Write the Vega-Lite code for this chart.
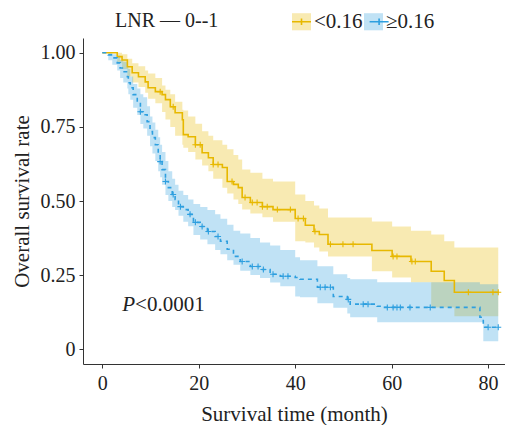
{
  "$schema": "https://vega.github.io/schema/vega-lite/v6.json",
  "width": 422,
  "height": 326,
  "autosize": {"type": "none"},
  "padding": {"left": 83, "top": 38, "right": 0, "bottom": 61},
  "background": "white",
  "config": {
    "view": {"stroke": null},
    "font": "Liberation Serif",
    "axis": {
      "labelFont": "Liberation Serif",
      "titleFont": "Liberation Serif",
      "labelFontSize": 20,
      "titleFontSize": 21,
      "titleFontWeight": "normal",
      "labelColor": "#222222",
      "titleColor": "#222222",
      "domainColor": "#333333",
      "tickColor": "#333333",
      "tickSize": 4,
      "grid": false
    },
    "legend": {
      "orient": "none",
      "legendY": -27,
      "direction": "horizontal",
      "titleOrient": "left",
      "titlePadding": 72,
      "titleFont": "Liberation Serif",
      "titleFontSize": 20,
      "titleFontWeight": "normal",
      "titleColor": "#222222",
      "labelFont": "Liberation Serif",
      "labelFontSize": 21,
      "labelColor": "#222222",
      "labelOffset": 2,
      "columnPadding": 0,
      "symbolSize": 361
    }
  },
  "datasets": {
    "curve": [
      {"grp": "<0.16", "t": 0, "s": 1, "lo": 1, "hi": 1},
      {"grp": "<0.16", "t": 3.1, "s": 0.987, "lo": 0.965, "hi": 1},
      {"grp": "<0.16", "t": 4.1, "s": 0.976, "lo": 0.945, "hi": 0.995},
      {"grp": "<0.16", "t": 5.2, "s": 0.953, "lo": 0.92, "hi": 0.98},
      {"grp": "<0.16", "t": 6.2, "s": 0.933, "lo": 0.9, "hi": 0.965},
      {"grp": "<0.16", "t": 7.5, "s": 0.919, "lo": 0.885, "hi": 0.955},
      {"grp": "<0.16", "t": 8.9, "s": 0.902, "lo": 0.865, "hi": 0.94},
      {"grp": "<0.16", "t": 9.5, "s": 0.882, "lo": 0.845, "hi": 0.93},
      {"grp": "<0.16", "t": 11.0, "s": 0.869, "lo": 0.83, "hi": 0.915},
      {"grp": "<0.16", "t": 12.4, "s": 0.859, "lo": 0.8, "hi": 0.89},
      {"grp": "<0.16", "t": 13.1, "s": 0.842, "lo": 0.775, "hi": 0.875},
      {"grp": "<0.16", "t": 14.1, "s": 0.818, "lo": 0.75, "hi": 0.86},
      {"grp": "<0.16", "t": 15.1, "s": 0.798, "lo": 0.72, "hi": 0.835},
      {"grp": "<0.16", "t": 16.6, "s": 0.774, "lo": 0.69, "hi": 0.808},
      {"grp": "<0.16", "t": 16.8, "s": 0.724, "lo": 0.68, "hi": 0.805},
      {"grp": "<0.16", "t": 17.8, "s": 0.717, "lo": 0.665, "hi": 0.785},
      {"grp": "<0.16", "t": 19.3, "s": 0.69, "lo": 0.64, "hi": 0.761},
      {"grp": "<0.16", "t": 20.7, "s": 0.663, "lo": 0.62, "hi": 0.735},
      {"grp": "<0.16", "t": 22.0, "s": 0.646, "lo": 0.6, "hi": 0.72},
      {"grp": "<0.16", "t": 23.0, "s": 0.623, "lo": 0.575, "hi": 0.705},
      {"grp": "<0.16", "t": 24.9, "s": 0.613, "lo": 0.545, "hi": 0.69},
      {"grp": "<0.16", "t": 25.9, "s": 0.566, "lo": 0.525, "hi": 0.675},
      {"grp": "<0.16", "t": 27.2, "s": 0.556, "lo": 0.505, "hi": 0.655},
      {"grp": "<0.16", "t": 28.2, "s": 0.545, "lo": 0.49, "hi": 0.64},
      {"grp": "<0.16", "t": 29.0, "s": 0.512, "lo": 0.471, "hi": 0.606},
      {"grp": "<0.16", "t": 30.7, "s": 0.495, "lo": 0.458, "hi": 0.595},
      {"grp": "<0.16", "t": 33.2, "s": 0.481, "lo": 0.445, "hi": 0.575},
      {"grp": "<0.16", "t": 35.4, "s": 0.471, "lo": 0.43, "hi": 0.566},
      {"grp": "<0.16", "t": 40.0, "s": 0.441, "lo": 0.364, "hi": 0.522},
      {"grp": "<0.16", "t": 42.1, "s": 0.418, "lo": 0.36, "hi": 0.5},
      {"grp": "<0.16", "t": 43.9, "s": 0.397, "lo": 0.343, "hi": 0.485},
      {"grp": "<0.16", "t": 45.0, "s": 0.387, "lo": 0.33, "hi": 0.475},
      {"grp": "<0.16", "t": 46.8, "s": 0.354, "lo": 0.313, "hi": 0.444},
      {"grp": "<0.16", "t": 55.9, "s": 0.333, "lo": 0.263, "hi": 0.431},
      {"grp": "<0.16", "t": 60.1, "s": 0.313, "lo": 0.242, "hi": 0.414},
      {"grp": "<0.16", "t": 64.0, "s": 0.296, "lo": 0.226, "hi": 0.4},
      {"grp": "<0.16", "t": 68.2, "s": 0.263, "lo": 0.141, "hi": 0.387},
      {"grp": "<0.16", "t": 70.9, "s": 0.232, "lo": 0.141, "hi": 0.364},
      {"grp": "<0.16", "t": 73.0, "s": 0.192, "lo": 0.111, "hi": 0.343},
      {"grp": "<0.16", "t": 82.1, "s": 0.192, "lo": 0.111, "hi": 0.343},
      {"grp": "≥0.16", "t": 0, "s": 1, "lo": 1, "hi": 1},
      {"grp": "≥0.16", "t": 1.24, "s": 0.993, "lo": 0.975, "hi": 1},
      {"grp": "≥0.16", "t": 2.07, "s": 0.983, "lo": 0.96, "hi": 0.995},
      {"grp": "≥0.16", "t": 3.1, "s": 0.966, "lo": 0.94, "hi": 0.99},
      {"grp": "≥0.16", "t": 3.7, "s": 0.949, "lo": 0.915, "hi": 0.976},
      {"grp": "≥0.16", "t": 4.35, "s": 0.936, "lo": 0.9, "hi": 0.97},
      {"grp": "≥0.16", "t": 5.2, "s": 0.919, "lo": 0.88, "hi": 0.955},
      {"grp": "≥0.16", "t": 5.4, "s": 0.899, "lo": 0.86, "hi": 0.945},
      {"grp": "≥0.16", "t": 5.8, "s": 0.882, "lo": 0.842, "hi": 0.92},
      {"grp": "≥0.16", "t": 6.4, "s": 0.859, "lo": 0.815, "hi": 0.895},
      {"grp": "≥0.16", "t": 7.25, "s": 0.832, "lo": 0.79, "hi": 0.88},
      {"grp": "≥0.16", "t": 7.9, "s": 0.801, "lo": 0.76, "hi": 0.86},
      {"grp": "≥0.16", "t": 8.5, "s": 0.791, "lo": 0.745, "hi": 0.85},
      {"grp": "≥0.16", "t": 9.3, "s": 0.768, "lo": 0.72, "hi": 0.82},
      {"grp": "≥0.16", "t": 9.9, "s": 0.734, "lo": 0.685, "hi": 0.785},
      {"grp": "≥0.16", "t": 10.4, "s": 0.714, "lo": 0.66, "hi": 0.765},
      {"grp": "≥0.16", "t": 11.0, "s": 0.69, "lo": 0.635, "hi": 0.74},
      {"grp": "≥0.16", "t": 11.6, "s": 0.657, "lo": 0.6, "hi": 0.715},
      {"grp": "≥0.16", "t": 12.0, "s": 0.633, "lo": 0.58, "hi": 0.69},
      {"grp": "≥0.16", "t": 12.4, "s": 0.606, "lo": 0.555, "hi": 0.665},
      {"grp": "≥0.16", "t": 13.1, "s": 0.566, "lo": 0.52, "hi": 0.635},
      {"grp": "≥0.16", "t": 13.7, "s": 0.545, "lo": 0.5, "hi": 0.6},
      {"grp": "≥0.16", "t": 14.5, "s": 0.522, "lo": 0.48, "hi": 0.575},
      {"grp": "≥0.16", "t": 15.1, "s": 0.505, "lo": 0.47, "hi": 0.555},
      {"grp": "≥0.16", "t": 15.8, "s": 0.481, "lo": 0.45, "hi": 0.535},
      {"grp": "≥0.16", "t": 16.8, "s": 0.471, "lo": 0.43, "hi": 0.52},
      {"grp": "≥0.16", "t": 17.8, "s": 0.455, "lo": 0.415, "hi": 0.505},
      {"grp": "≥0.16", "t": 18.9, "s": 0.428, "lo": 0.385, "hi": 0.49},
      {"grp": "≥0.16", "t": 20.3, "s": 0.414, "lo": 0.37, "hi": 0.48},
      {"grp": "≥0.16", "t": 21.8, "s": 0.397, "lo": 0.354, "hi": 0.47},
      {"grp": "≥0.16", "t": 23.4, "s": 0.38, "lo": 0.335, "hi": 0.455},
      {"grp": "≥0.16", "t": 24.5, "s": 0.364, "lo": 0.32, "hi": 0.44},
      {"grp": "≥0.16", "t": 25.9, "s": 0.337, "lo": 0.3, "hi": 0.42},
      {"grp": "≥0.16", "t": 27.2, "s": 0.313, "lo": 0.285, "hi": 0.4},
      {"grp": "≥0.16", "t": 28.6, "s": 0.296, "lo": 0.265, "hi": 0.39},
      {"grp": "≥0.16", "t": 30.7, "s": 0.279, "lo": 0.25, "hi": 0.375},
      {"grp": "≥0.16", "t": 32.7, "s": 0.269, "lo": 0.24, "hi": 0.36},
      {"grp": "≥0.16", "t": 34.8, "s": 0.253, "lo": 0.225, "hi": 0.35},
      {"grp": "≥0.16", "t": 36.9, "s": 0.246, "lo": 0.212, "hi": 0.335},
      {"grp": "≥0.16", "t": 40.0, "s": 0.242, "lo": 0.178, "hi": 0.31},
      {"grp": "≥0.16", "t": 41.0, "s": 0.236, "lo": 0.175, "hi": 0.3},
      {"grp": "≥0.16", "t": 44.6, "s": 0.209, "lo": 0.155, "hi": 0.28},
      {"grp": "≥0.16", "t": 47.9, "s": 0.178, "lo": 0.14, "hi": 0.253},
      {"grp": "≥0.16", "t": 50.8, "s": 0.168, "lo": 0.12, "hi": 0.24},
      {"grp": "≥0.16", "t": 51.4, "s": 0.152, "lo": 0.108, "hi": 0.236},
      {"grp": "≥0.16", "t": 57.0, "s": 0.145, "lo": 0.091, "hi": 0.226},
      {"grp": "≥0.16", "t": 57.6, "s": 0.141, "lo": 0.091, "hi": 0.226},
      {"grp": "≥0.16", "t": 78.3, "s": 0.108, "lo": 0.091, "hi": 0.219},
      {"grp": "≥0.16", "t": 79.0, "s": 0.074, "lo": 0.027, "hi": 0.219},
      {"grp": "≥0.16", "t": 82.1, "s": 0.074, "lo": 0.027, "hi": 0.219}
    ],
    "censor": [
      {"grp": "<0.16", "t": 12.0, "s": 0.869},
      {"grp": "<0.16", "t": 14.7, "s": 0.818},
      {"grp": "<0.16", "t": 19.3, "s": 0.69},
      {"grp": "<0.16", "t": 20.3, "s": 0.69},
      {"grp": "<0.16", "t": 23.0, "s": 0.623},
      {"grp": "<0.16", "t": 24.0, "s": 0.623},
      {"grp": "<0.16", "t": 26.9, "s": 0.566},
      {"grp": "<0.16", "t": 29.6, "s": 0.512},
      {"grp": "<0.16", "t": 31.1, "s": 0.495},
      {"grp": "<0.16", "t": 32.1, "s": 0.495},
      {"grp": "<0.16", "t": 33.2, "s": 0.481},
      {"grp": "<0.16", "t": 34.2, "s": 0.481},
      {"grp": "<0.16", "t": 36.3, "s": 0.471},
      {"grp": "<0.16", "t": 39.0, "s": 0.471},
      {"grp": "<0.16", "t": 40.6, "s": 0.441},
      {"grp": "<0.16", "t": 41.7, "s": 0.441},
      {"grp": "<0.16", "t": 44.1, "s": 0.397},
      {"grp": "<0.16", "t": 47.3, "s": 0.354},
      {"grp": "<0.16", "t": 49.9, "s": 0.354},
      {"grp": "<0.16", "t": 52.0, "s": 0.354},
      {"grp": "<0.16", "t": 60.3, "s": 0.313},
      {"grp": "<0.16", "t": 61.1, "s": 0.313},
      {"grp": "<0.16", "t": 64.2, "s": 0.296},
      {"grp": "<0.16", "t": 64.9, "s": 0.296},
      {"grp": "<0.16", "t": 75.9, "s": 0.192},
      {"grp": "<0.16", "t": 81.0, "s": 0.192},
      {"grp": "<0.16", "t": 82.1, "s": 0.192},
      {"grp": "≥0.16", "t": 7.9, "s": 0.801},
      {"grp": "≥0.16", "t": 12.0, "s": 0.633},
      {"grp": "≥0.16", "t": 13.1, "s": 0.566},
      {"grp": "≥0.16", "t": 14.7, "s": 0.522},
      {"grp": "≥0.16", "t": 16.2, "s": 0.481},
      {"grp": "≥0.16", "t": 18.2, "s": 0.455},
      {"grp": "≥0.16", "t": 19.3, "s": 0.428},
      {"grp": "≥0.16", "t": 20.7, "s": 0.414},
      {"grp": "≥0.16", "t": 22.0, "s": 0.397},
      {"grp": "≥0.16", "t": 24.0, "s": 0.38},
      {"grp": "≥0.16", "t": 29.0, "s": 0.296},
      {"grp": "≥0.16", "t": 31.1, "s": 0.279},
      {"grp": "≥0.16", "t": 32.3, "s": 0.279},
      {"grp": "≥0.16", "t": 33.4, "s": 0.269},
      {"grp": "≥0.16", "t": 35.4, "s": 0.253},
      {"grp": "≥0.16", "t": 37.5, "s": 0.246},
      {"grp": "≥0.16", "t": 38.5, "s": 0.246},
      {"grp": "≥0.16", "t": 45.2, "s": 0.209},
      {"grp": "≥0.16", "t": 46.2, "s": 0.209},
      {"grp": "≥0.16", "t": 47.3, "s": 0.209},
      {"grp": "≥0.16", "t": 51.0, "s": 0.168},
      {"grp": "≥0.16", "t": 54.1, "s": 0.152},
      {"grp": "≥0.16", "t": 55.1, "s": 0.152},
      {"grp": "≥0.16", "t": 59.1, "s": 0.141},
      {"grp": "≥0.16", "t": 60.3, "s": 0.141},
      {"grp": "≥0.16", "t": 61.1, "s": 0.141},
      {"grp": "≥0.16", "t": 61.8, "s": 0.141},
      {"grp": "≥0.16", "t": 63.8, "s": 0.141},
      {"grp": "≥0.16", "t": 68.0, "s": 0.141},
      {"grp": "≥0.16", "t": 80.0, "s": 0.074},
      {"grp": "≥0.16", "t": 82.1, "s": 0.074}
    ]
  },
  "layer": [
    {
      "data": {"name": "curve"},
      "mark": {"type": "area", "interpolate": "step-after"},
      "encoding": {
        "x": {"field": "t", "type": "quantitative", "scale": {"domain": [-4, 83.5], "nice": false, "zero": false},
              "axis": {"title": "Survival time (month)", "values": [0, 20, 40, 60, 80], "labelPadding": 5, "titlePadding": 10}},
        "y": {"field": "hi", "type": "quantitative", "scale": {"domain": [-0.05, 1.05], "nice": false, "zero": false},
              "axis": {"title": "Overall survival rate", "values": [0, 0.25, 0.5, 0.75, 1], "labelExpr": "datum.value == 0 ? '0' : format(datum.value, '.2f')", "labelPadding": 4, "titlePadding": 8}},
        "y2": {"field": "lo"},
        "fill": {"field": "grp", "type": "nominal", "scale": {"domain": ["<0.16", "≥0.16"], "range": ["rgba(231,184,0,0.3)", "rgba(46,159,223,0.3)"]},
                 "legend": {"title": "LNR — 0--1", "legendX": 32, "symbolType": "M-1,-0.9H1V0.9H-1Z", "symbolStrokeWidth": 0}}
      }
    },
    {
      "data": {"name": "curve"},
      "mark": {"type": "line", "interpolate": "step-after", "strokeWidth": 1.6},
      "encoding": {
        "x": {"field": "t", "type": "quantitative"},
        "y": {"field": "s", "type": "quantitative"},
        "stroke": {"field": "grp", "type": "nominal", "scale": {"range": ["#E7B800", "#2E9FDF"]},
                   "legend": {"title": null, "legendX": 208, "labelExpr": "''", "labelOffset": 0, "columnPadding": 50.6, "symbolType": "M-1,0H1M0,-0.35V0.35", "symbolStrokeWidth": 1.6}},
        "strokeDash": {"condition": {"test": "datum.grp === '≥0.16'", "value": [4, 4]}, "value": [1, 0]}
      }
    },
    {
      "data": {"name": "censor"},
      "mark": {"type": "point", "shape": "M-1,0H1M0,-1V1", "size": 36, "filled": false, "strokeWidth": 1.1, "opacity": 1},
      "encoding": {
        "x": {"field": "t", "type": "quantitative"},
        "y": {"field": "s", "type": "quantitative"},
        "stroke": {"field": "grp", "type": "nominal",
                   "legend": {"title": null, "legendX": 208, "labelExpr": "''", "labelOffset": 0, "columnPadding": 50.6, "symbolType": "M-1,0H1M0,-0.35V0.35", "symbolStrokeWidth": 1.6}}
      }
    },
    {
      "data": {"values": [{"t": 4.15, "s": 0.128, "label": "P"}]},
      "mark": {"type": "text", "align": "left", "baseline": "alphabetic", "font": "Liberation Serif", "fontSize": 21, "fontStyle": "italic", "color": "#222222"},
      "encoding": {
        "x": {"field": "t", "type": "quantitative"},
        "y": {"field": "s", "type": "quantitative"},
        "text": {"field": "label"}
      }
    },
    {
      "data": {"values": [{"t": 6.8, "s": 0.128, "label": "<0.0001"}]},
      "mark": {"type": "text", "align": "left", "baseline": "alphabetic", "font": "Liberation Serif", "fontSize": 21, "color": "#222222"},
      "encoding": {
        "x": {"field": "t", "type": "quantitative"},
        "y": {"field": "s", "type": "quantitative"},
        "text": {"field": "label"}
      }
    }
  ]
}
